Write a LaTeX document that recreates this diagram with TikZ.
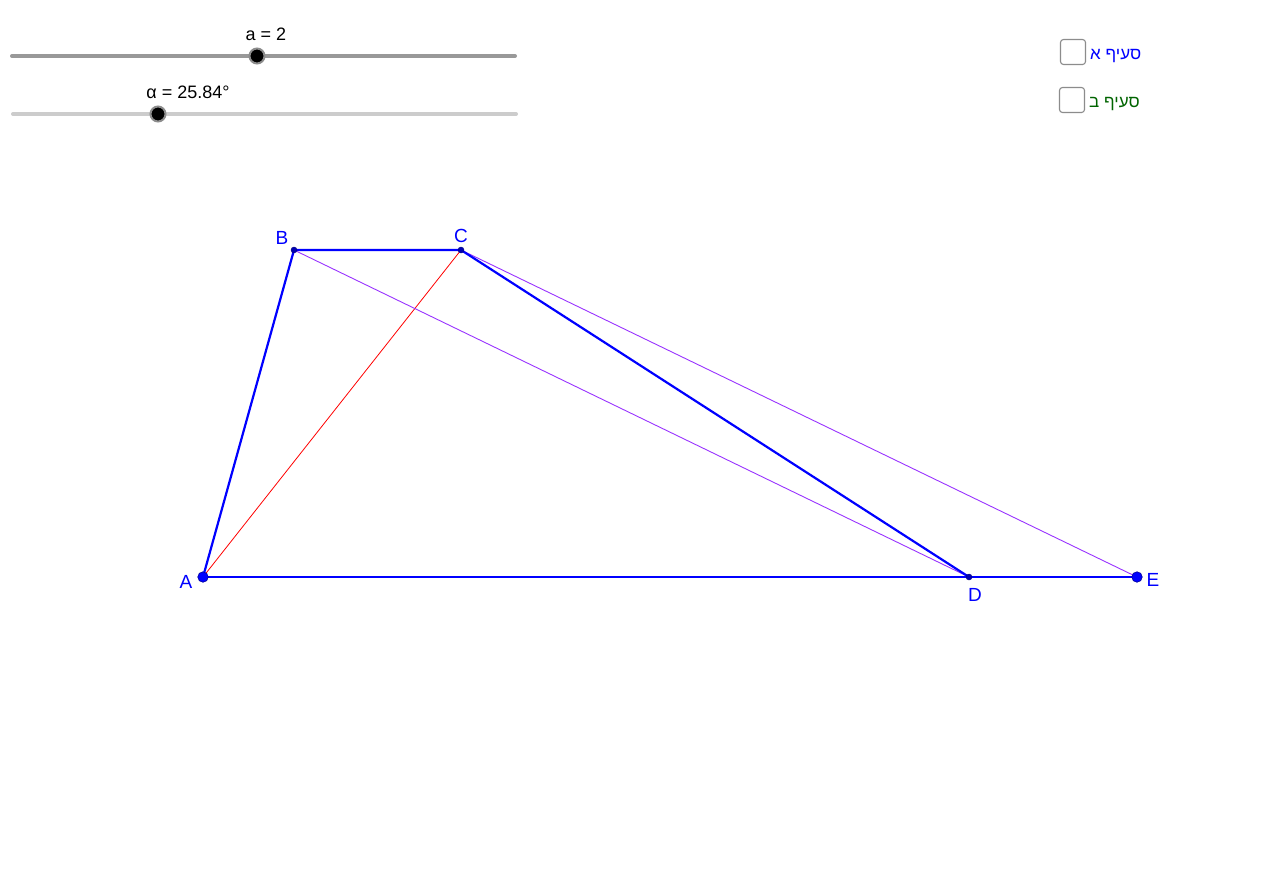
\documentclass[tikz,border=0pt]{standalone}
\usepackage{fontspec}
\setmainfont{Liberation Sans}
\newfontfamily\hebfont[Script=Hebrew]{Liberation Sans}
\TeXXeTstate=1
\definecolor{ggblue}{RGB}{0,0,255}
\definecolor{ggpurple}{RGB}{153,51,255}
\definecolor{ggred}{RGB}{255,0,0}
\definecolor{gggreen}{RGB}{0,100,0}
\definecolor{tracka}{RGB}{153,153,153}
\definecolor{trackb}{RGB}{204,204,204}
\begin{document}
\begin{tikzpicture}[x=1pt,y=-1pt,
  thickseg/.style={ggblue,line width=2.2pt},
  thinpurple/.style={ggpurple,line width=0.9pt},
  thinred/.style={ggred,line width=0.8pt},
  bigpt/.style={circle,fill=ggblue,draw=ggblue!60!black,line width=0.6pt,inner sep=0pt,minimum size=10.5pt},
  smallpt/.style={circle,fill=ggblue!70!black,draw=ggblue!50!black,line width=0.4pt,inner sep=0pt,minimum size=6pt},
  ptlabel/.style={text=ggblue,font=\fontsize{19}{22}\selectfont,inner sep=0pt},
  knob/.style={circle,fill=black,draw=black!45,line width=2pt,inner sep=0pt,minimum size=15pt},
  slabel/.style={text=black,font=\fontsize{18}{21}\selectfont,inner sep=0pt},
  cbox/.style={draw=black!45,line width=1.1pt,rounded corners=3pt,minimum size=25pt,inner sep=0pt,fill=white},
  heb/.style={font=\hebfont\fontsize{17}{20}\selectfont,inner sep=0pt,anchor=base west}
]
\useasboundingbox (0,0) rectangle (1280,887);
\fill[white] (0,0) rectangle (1280,887);

% sliders
\coordinate (sa1) at (12,56);
\coordinate (sa2) at (515,56);
\coordinate (sb1) at (13,114);
\coordinate (sb2) at (516,114);
\draw[tracka,line width=4pt,line cap=round] (sa1) -- (sa2);
\draw[trackb,line width=4pt,line cap=round] (sb1) -- (sb2);
\node[knob] (ka) at (257,56) {};
\node[knob] (kb) at (158,114) {};
\node[slabel] (la) at (266,34) {a = 2};
\node[slabel] (lb) at (188,92) {α = 25.84°};

% checkboxes
\node[cbox] (cb1) at (1073,52) {};
\node[cbox] (cb2) at (1072,100) {};
\node[heb,text=ggblue] (t1) at (1090,59) {\beginR סעיף א\endR};
\node[heb,text=gggreen] (t2) at (1089,107) {\beginR סעיף ב\endR};

% points
\coordinate (A) at (203,577);
\coordinate (B) at (294,250);
\coordinate (C) at (461,250);
\coordinate (D) at (969,577);
\coordinate (E) at (1137,577);

% segments
\draw[thinred] (A) -- (C);
\draw[thinpurple] (B) -- (D);
\draw[thinpurple] (C) -- (E);
\draw[thickseg,line join=round] (A) -- (B) -- (C) -- (D);
\draw[thickseg] (A) -- (E);

% dots
\node[bigpt] (pA) at (A) {};
\node[bigpt] (pE) at (E) {};
\node[smallpt] (pB) at (B) {};
\node[smallpt] (pC) at (C) {};
\node[smallpt] (pD) at (D) {};

% labels
\node[ptlabel] (lA) at (186,582) {A};
\node[ptlabel] (lB) at (282,238) {B};
\node[ptlabel] (lC) at (461,236) {C};
\node[ptlabel] (lD) at (975,595) {D};
\node[ptlabel] (lE) at (1153,580) {E};
\end{tikzpicture}
\end{document}
